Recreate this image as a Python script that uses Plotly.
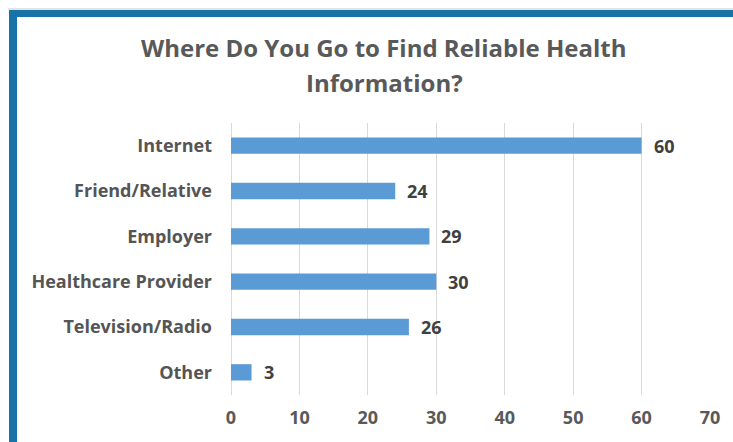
import plotly.graph_objects as go

# Survey answers, top to bottom
categories = ["Internet", "Friend/Relative", "Employer", "Healthcare Provider",
              "Television/Radio", "Other"]
counts = [60, 24, 29, 30, 26, 3]
x_ticks = [0, 10, 20, 30, 40, 50, 60, 70]
title_lines = ["Where Do You Go to Find Reliable Health", "Information?"]

W, H = 733, 442
ML, MR, MT, MB = 231, 23, 123, 47
PW, PH = W - ML - MR, H - MT - MB


def px_x(p):
    return (p - ML) / PW


def px_y(p):
    return 1 - (p - MT) / PH


FONT = "'Open Sans', sans-serif"
BORDER = "#1874A8"

fig = go.Figure(
    go.Bar(
        x=counts,
        y=categories,
        orientation="h",
        marker=dict(color="#5B9BD5", line=dict(width=0)),
        width=0.36,
        hoverinfo="x+y",
    )
)

# value labels beside each bar
for c, v in zip(categories, counts):
    fig.add_annotation(x=v, y=c, text=f"<b>{v}</b>", showarrow=False,
                       xanchor="left", xshift=10,
                       font=dict(family=FONT, size=18, color="#404040"))

# two-line heading
for i, line in enumerate(title_lines):
    fig.add_annotation(xref="paper", yref="paper", x=px_x(384), y=px_y(47 + 35 * i),
                       text=f"<b>{line}</b>", showarrow=False,
                       xanchor="center", yanchor="middle",
                       font=dict(family=FONT, size=24, color="#595959"))

# frame along the top and left edges
fig.add_shape(type="line", xref="paper", yref="paper",
              x0=px_x(8), x1=px_x(W), y0=px_y(9), y1=px_y(9),
              line=dict(color="#C8C8C8", width=1), layer="below")
fig.add_shape(type="rect", xref="paper", yref="paper",
              x0=px_x(9), x1=px_x(W + 2), y0=px_y(10), y1=px_y(17),
              fillcolor=BORDER, line=dict(width=0), layer="below")
fig.add_shape(type="rect", xref="paper", yref="paper",
              x0=px_x(9), x1=px_x(17), y0=px_y(10), y1=px_y(H + 2),
              fillcolor=BORDER, line=dict(width=0), layer="below")

fig.update_layout(
    width=W, height=H,
    margin=dict(l=ML, r=MR, t=MT, b=MB),
    paper_bgcolor="white", plot_bgcolor="white",
    showlegend=False,
    font=dict(family=FONT),
)
fig.update_xaxes(
    range=[0, 70], tickvals=x_ticks, ticktext=[f"<b>{t}</b>" for t in x_ticks],
    showgrid=True, gridcolor="#D9D9D9", gridwidth=1,
    zeroline=True, zerolinecolor="#D9D9D9", zerolinewidth=1,
    showline=False, ticks="", ticklabelstandoff=10,
    tickfont=dict(family=FONT, size=18, color="#595959"),
    fixedrange=True,
)
fig.update_yaxes(
    autorange="reversed",
    tickvals=categories, ticktext=[f"<b>{c}</b>" for c in categories],
    showgrid=False, zeroline=False, showline=False, ticks="",
    ticklabelstandoff=18,
    tickfont=dict(family=FONT, size=18, color="#555555"),
    fixedrange=True,
)

fig.write_html("out.html")
